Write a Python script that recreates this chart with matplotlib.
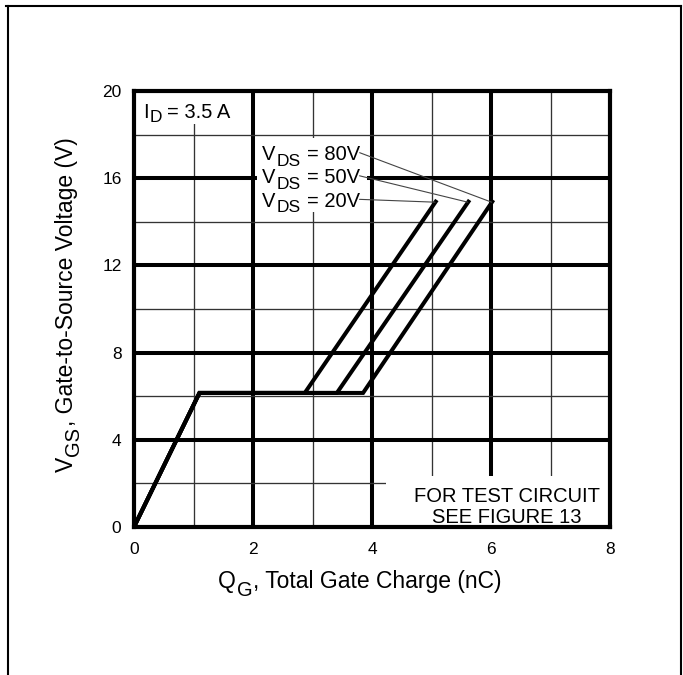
import matplotlib
matplotlib.use("Agg")
import matplotlib.pyplot as plt
from matplotlib.lines import Line2D
from matplotlib.patches import Rectangle

plt.rcParams['font.family'] = ['Liberation Sans', 'DejaVu Sans']

# ---------------- data ----------------
x_ticks = [0, 2, 4, 6, 8]
y_ticks = [0, 4, 8, 12, 16, 20]
x_minor = [1, 3, 5, 7]
y_minor = [2, 6, 10, 14, 18]

vds_labels = ["80V", "50V", "20V"]
qg_80 = [0, 1.1, 3.85, 6.04]
qg_50 = [0, 1.1, 3.41, 5.64]
qg_20 = [0, 1.1, 2.87, 5.09]
vgs_curve = [0, 6.15, 6.15, 15.0]

W, H = 683, 675
fig = plt.figure(figsize=(W / 100, H / 100), dpi=100)
ax = fig.add_axes([134 / W, (H - 527) / H, (610 - 134) / W, (527 - 91) / H])
ax.set_xlim(0, 8)
ax.set_ylim(0, 20)

# grid
for v in x_minor:
    ax.axvline(v, color='#333333', lw=0.95, zorder=1)
for v in x_ticks[1:-1]:
    ax.axvline(v, color='black', lw=2.9, zorder=1)
for v in y_minor:
    ax.axhline(v, color='#333333', lw=0.95, zorder=1)
for v in y_ticks[1:-1]:
    ax.axhline(v, color='black', lw=2.9, zorder=1)

for s in ax.spines.values():
    s.set_linewidth(3.0)
    s.set_zorder(5)

ax.set_xticks(x_ticks)
ax.set_yticks(y_ticks)
ax.tick_params(axis='both', length=0, labelsize=12.5)
ax.tick_params(axis='y', pad=9)
ax.tick_params(axis='x', pad=11)

# white boxes behind annotations
ax.add_patch(Rectangle((4.24, 0), 3.76, 2.35, facecolor='white', edgecolor='none', zorder=1.5))
ax.add_patch(Rectangle((0, 18.5), 1.95, 1.5, facecolor='white', edgecolor='none', zorder=1.5))
ax.add_patch(Rectangle((2.06, 14.45), 1.86, 3.39, facecolor='white', edgecolor='none', zorder=1.5))

# curves
for q in (qg_80, qg_50, qg_20):
    ax.plot(q, vgs_curve, color='black', lw=2.9, solid_capstyle='butt',
            solid_joinstyle='miter', zorder=3)


def chain(pieces, x, y, trans, rotation=0):
    prev = None
    for (s, size, off, gap) in pieces:
        if rotation == 0:
            if prev is None:
                xy, xyc, xt = (x, y), trans, (0, off)
            else:
                xy, xyc, xt = (1, y), (prev, trans), (gap, off)
        else:
            if prev is None:
                xy, xyc, xt = (x, y), trans, (-off, 0)
            else:
                xy, xyc, xt = (x, 1), (trans, prev), (-off, gap)
        t = ax.annotate(s, xy=xy, xycoords=xyc, xytext=xt, textcoords='offset points',
                        rotation=rotation, rotation_mode='anchor', ha='left',
                        va='baseline', fontsize=size, annotation_clip=False, zorder=6)
        prev = t
    return prev


# I_D label
chain([("I", 14.5, 0, 0), ("D", 12.5, -3, 0.6), ("= 3.5 A", 14.5, 0, 3.5)],
      0.146, 18.75, ax.transData)

# V_DS labels with leaders
base_y = [16.83, 15.77, 14.69]
ends = [(qg_80[-1], vgs_curve[-1]), (qg_50[-1], vgs_curve[-1]), (qg_20[-1], vgs_curve[-1])]
for lab, by, (ex, ey) in zip(vds_labels, base_y, ends):
    t = chain([("V", 14.5, 0, 0), ("DS", 12.5, -4, 0.8), ("= " + lab, 14.5, 0, 4.5)],
              2.146, by, ax.transData)
    ax.annotate('', xy=(ex - 0.03, ey - 0.1), xycoords='data',
                xytext=(1, by + 0.34), textcoords=(t, ax.transData),
                arrowprops=dict(arrowstyle='-', color='#444444', lw=0.8,
                                shrinkA=0, shrinkB=0), zorder=4)

# test circuit note
ax.text(6.27, 1.16, "FOR TEST CIRCUIT", ha='center', va='baseline', fontsize=14.5, zorder=6)
ax.text(6.27, 0.20, "SEE FIGURE 13", ha='center', va='baseline', fontsize=14.5, zorder=6)

# axis labels
chain([("Q", 16.5, 0, 0), ("G", 14.5, -6, 0.8), (", Total Gate Charge (nC)", 16.5, 0, 0.5)],
      218 / W, (H - 588) / H, fig.transFigure)
chain([("V", 16.5, 0, 0), ("GS", 14.5, -4, 0.8), (", Gate-to-Source Voltage (V)", 16.5, 0, 0.5)],
      73 / W, (H - 472) / H, fig.transFigure, rotation=90)

# outer frame
lw_frame = 1.5
fig.add_artist(Line2D([6 / W, 681 / W], [(H - 6.3) / H] * 2, transform=fig.transFigure,
                      color='black', lw=lw_frame))
fig.add_artist(Line2D([7.5 / W] * 2, [0, (H - 6.3) / H], transform=fig.transFigure,
                      color='black', lw=lw_frame))
fig.add_artist(Line2D([681 / W] * 2, [0, (H - 6.3) / H], transform=fig.transFigure,
                      color='black', lw=lw_frame))

fig.savefig("out.png", dpi=100)
